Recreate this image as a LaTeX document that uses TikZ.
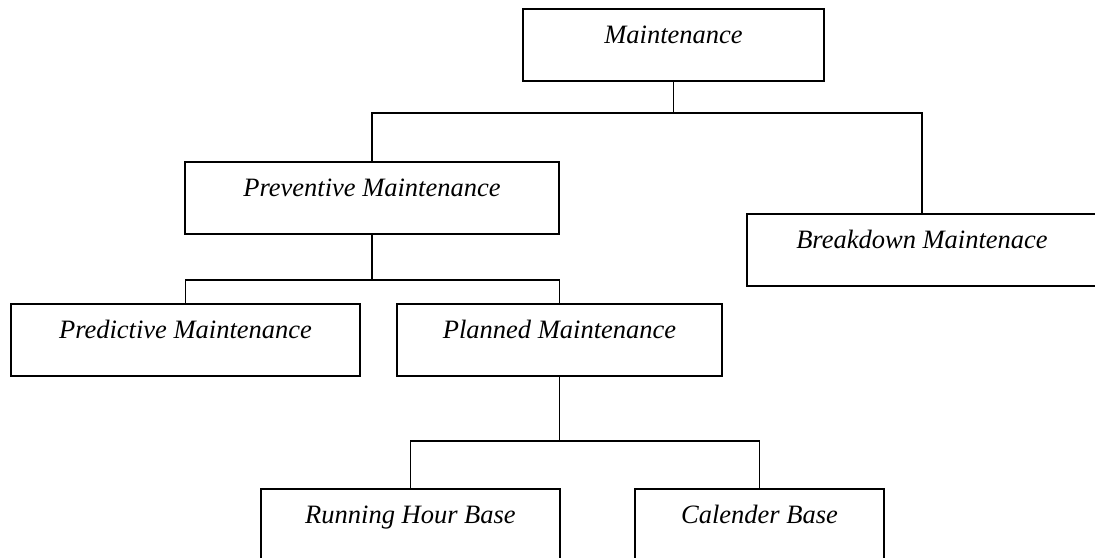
\documentclass[tikz,border=0pt]{standalone}
\usepackage{fontspec}
\setmainfont{Liberation Serif}[ItalicFont={Liberation Serif Italic}]
\begin{document}
\begin{tikzpicture}[x=1pt,y=-1pt,line width=1.9pt,
  box/.style={draw=black, rectangle, inner xsep=0pt, inner ysep=0pt,
    text height=35pt, text depth=37pt, minimum width=#1,
    font=\fontsize{26.5}{30}\selectfont\itshape, anchor=north},
  link/.style={draw=black, line width=1.9pt, line cap=rect}]
\useasboundingbox (0,0) rectangle (1095,557);
\node[box=301pt] (m)  at (673.5,8)   {Maintenance};
\node[box=374pt] (pm) at (372,161)   {Preventive Maintenance};
\node[box=350pt] (bd) at (922,213)   {Breakdown Maintenace};
\node[box=349pt] (pd) at (185.5,303) {Predictive Maintenance};
\node[box=325pt] (pl) at (559.5,303) {Planned Maintenance};
\node[box=299pt] (rh) at (410.5,488) {Running Hour Base};
\node[box=249pt] (cb) at (759.5,488) {Calender Base};
\coordinate (b1) at (0,113);
\coordinate (b2) at (0,280);
\coordinate (b3) at (0,441);
\draw[link] (m.south) -- (m.south |- b1);
\draw[link] (pm.north) -- (pm.north |- b1) -- (bd.north |- b1) -- (bd.north);
\draw[link] (pm.south) -- (pm.south |- b2);
\draw[link] (pd.north) -- (pd.north |- b2) -- (pl.north |- b2) -- (pl.north);
\draw[link] (pl.south) -- (pl.south |- b3);
\draw[link] (rh.north) -- (rh.north |- b3) -- (cb.north |- b3) -- (cb.north);
\end{tikzpicture}
\end{document}
